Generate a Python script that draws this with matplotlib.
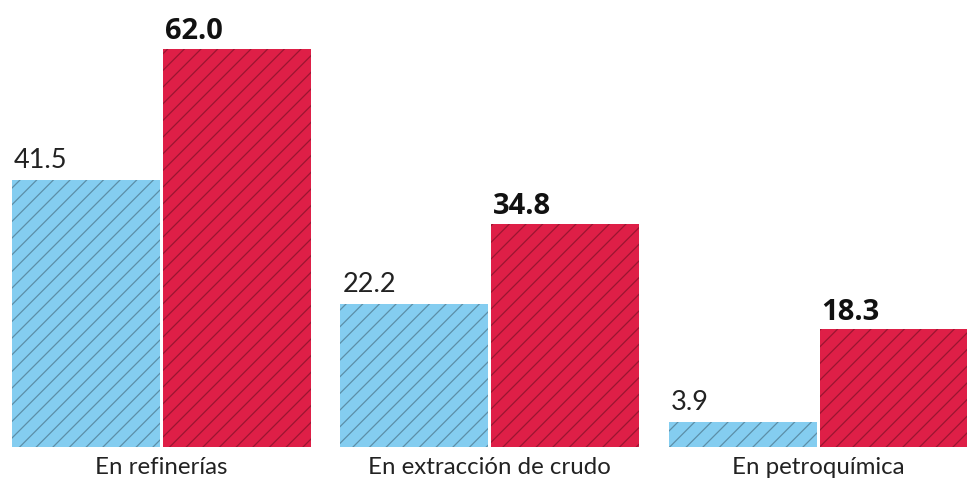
import matplotlib
matplotlib.use("Agg")
import matplotlib.pyplot as plt
import numpy as np

categories = ["En refinerías", "En extracción de crudo", "En petroquímica"]
serie_a = [41.5, 22.2, 3.9]
serie_b = [62.0, 34.8, 18.3]

blue = "#84CDF0"
red = "#DE1F47"

plt.rcParams['hatch.linewidth'] = 0.6
plt.rcParams['font.family'] = ['Lato', 'DejaVu Sans']

dpi = 150
fig = plt.figure(figsize=(967 / dpi, 486 / dpi), dpi=dpi)
ax = fig.add_axes([0, 0.0802, 1, 0.9198])

x = np.arange(len(categories))
w = 0.451
gap = 0.009
xa = x - (w / 2 + gap / 2)
xb = x + (w / 2 + gap / 2)

ax.bar(xa, serie_a, width=w, color=blue, edgecolor=(0, 0, 0, 0.3), linewidth=0, hatch='///')
ax.bar(xb, serie_b, width=w, color=red, edgecolor=(0, 0, 0, 0.3), linewidth=0, hatch='///')

for xi, v in zip(xa, serie_a):
    ax.text(xi - w / 2 + 0.006, v + 1.1, f"{v:.1f}", ha='left', va='bottom',
            fontsize=13, fontweight='normal', color='#222222')
for xi, v in zip(xb, serie_b):
    ax.text(xi - w / 2 + 0.006, v + 0.4, f"{v:.1f}", ha='left', va='bottom',
            fontsize=14, fontweight='bold', color='#111111',
            family=['Open Sans', 'DejaVu Sans'])

for xi, c in zip(x, categories):
    ax.text(xi, -1.6, c, ha='center', va='top', fontsize=11.5, color='#222222',
            transform=ax.transData, clip_on=False)

ax.set_xlim(-0.492, 2.453)
ax.set_ylim(0, 69.6)
ax.axis('off')

fig.savefig("out.png", dpi=dpi, facecolor='white')
